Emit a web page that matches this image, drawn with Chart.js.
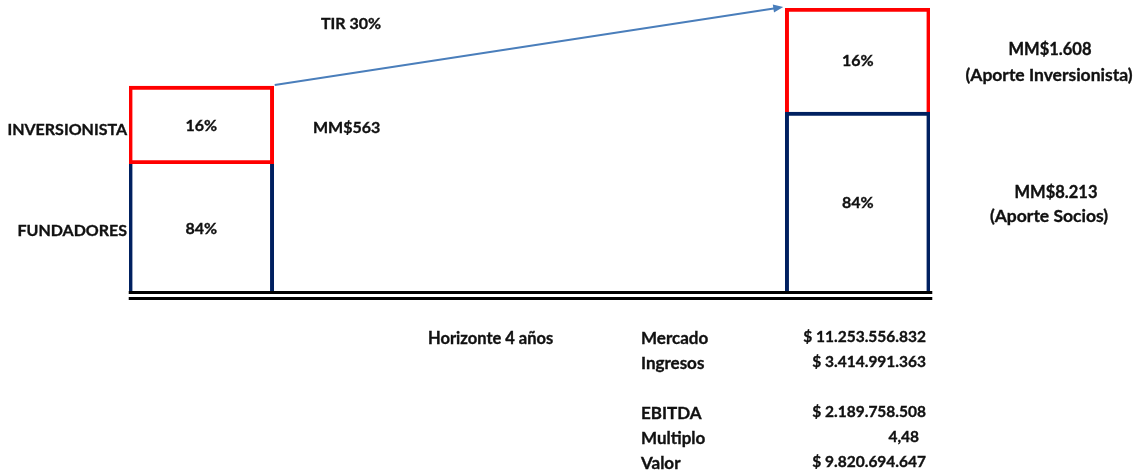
<!DOCTYPE html>
<html>
<head>
<meta charset="utf-8">
<script src="https://cdn.jsdelivr.net/npm/chart.js@4/dist/chart.umd.min.js"></script>
<style>
  html, body { margin: 0; padding: 0; background: #fff; }
  #wrap { position: relative; width: 1141px; height: 474px; font-family: Lato, "Liberation Sans", sans-serif; font-weight: 700; font-size: 16px; color: #111; -webkit-text-stroke: 0.35px #111; }
  #wrap canvas { position: absolute; left: 0; top: 0; }
  .t { position: absolute; white-space: nowrap; line-height: 1; transform: translateY(-50%); }
  .c { transform: translate(-50%, -50%); }
  .r { transform: translate(-100%, -50%); }
  .w { font-size: 17.5px; }
  .m { font-size: 16.5px; }
  .lab { font-size: 17px; }
  .val { font-size: 15.5px; }
</style>
</head>
<body>
<div id="wrap">
  <canvas id="equityChart" width="1141" height="474"></canvas>

  <div class="t r" style="left:127px; top:129px;">INVERSIONISTA</div>
  <div class="t r" style="left:127px; top:230px;">FUNDADORES</div>
  <div class="t" style="left:321px; top:23px;">TIR 30%</div>
  <div class="t" style="left:313px; top:127px;">MM$563</div>

  <div class="t c m" style="left:1050px; top:49px;">MM$1.608</div>
  <div class="t c w" style="left:1049px; top:75px;">(Aporte Inversionista)</div>
  <div class="t c m" style="left:1056px; top:192px;">MM$8.213</div>
  <div class="t c w" style="left:1049px; top:216px;">(Aporte Socios)</div>

  <div class="t m" style="left:428px; top:338px;">Horizonte 4 años</div>
  <div id="summary"></div>
</div>

<script>
// Years on the horizontal axis (entry and exit)
const years = [0, 4];
// Bar segment heights as drawn (arbitrary units)
const foundersHeight = [128, 180];
const investorHeight = [78, 104];
// Share labels inside each segment
const foundersShare = ['84%', '84%'];
const investorShare = ['16%', '16%'];

// Summary table under the chart
const summaryLabels = ['Mercado', 'Ingresos', 'EBITDA', 'Multiplo', 'Valor'];
const summaryValues = ['$ 11.253.556.832', '$ 3.414.991.363', '$ 2.189.758.508', '4,48', '$ 9.820.694.647'];
const summaryRows = [337, 362, 412, 437, 462];

const summary = document.getElementById('summary');
summaryLabels.forEach(function(label, i) {
    const l = document.createElement('div');
    l.className = 't lab';
    l.style.left = '641px';
    l.style.top = summaryRows[i] + 'px';
    l.textContent = label;
    summary.appendChild(l);
    const v = document.createElement('div');
    v.className = 't r val';
    v.style.left = (summaryValues[i] === '4,48' ? 919 : 926) + 'px';
    v.style.top = summaryRows[i] + 'px';
    v.textContent = summaryValues[i];
    summary.appendChild(v);
});

const RED = '#ff0000';
const NAVY = '#002060';
const B = 4;

// Percent labels, TIR arrow and double baseline
const decorations = {
    id: 'decorations',
    afterDatasetsDraw(chart) {
        const ctx = chart.ctx;
        const founders = chart.getDatasetMeta(0).data;
        const investor = chart.getDatasetMeta(1).data;

        ctx.save();
        ctx.font = '700 16px Lato, "Liberation Sans", sans-serif';
        ctx.fillStyle = '#111';
        ctx.strokeStyle = '#111';
        ctx.lineWidth = 0.35;
        ctx.textAlign = 'center';
        ctx.textBaseline = 'middle';
        founders.forEach(function(bar, i) {
            const y = (bar.y + bar.base) / 2 + 1;
            ctx.fillText(foundersShare[i], bar.x, y);
            ctx.strokeText(foundersShare[i], bar.x, y);
        });
        investor.forEach(function(bar, i) {
            const y = (bar.y + bar.base) / 2 + 1;
            ctx.fillText(investorShare[i], bar.x, y);
            ctx.strokeText(investorShare[i], bar.x, y);
        });

        // baseline (double line)
        const left = founders[0].x - founders[0].width / 2;
        const right = founders[1].x + founders[1].width / 2;
        const base = founders[0].base;
        ctx.fillStyle = '#000';
        ctx.fillRect(left, base - 1, right - left + 2, 3);
        ctx.fillRect(left, base + 5, right - left + 2, 3);

        // arrow from entry to exit
        const a = investor[0], b = investor[1];
        const x1 = a.x + a.width / 2 + 1, y1 = a.y - 1;
        const x2 = b.x - b.width / 2 - 2, y2 = b.y - 1;
        const ang = Math.atan2(y2 - y1, x2 - x1);
        ctx.strokeStyle = '#4a7ebb';
        ctx.fillStyle = '#4a7ebb';
        ctx.lineWidth = 2;
        ctx.beginPath();
        ctx.moveTo(x1, y1);
        ctx.lineTo(x2 - 8 * Math.cos(ang), y2 - 8 * Math.sin(ang));
        ctx.stroke();
        ctx.beginPath();
        ctx.moveTo(x2, y2);
        ctx.lineTo(x2 - 10 * Math.cos(ang) + 4 * Math.sin(ang), y2 - 10 * Math.sin(ang) - 4 * Math.cos(ang));
        ctx.lineTo(x2 - 10 * Math.cos(ang) - 4 * Math.sin(ang), y2 - 10 * Math.sin(ang) + 4 * Math.cos(ang));
        ctx.closePath();
        ctx.fill();
        ctx.restore();
    }
};

new Chart(document.getElementById('equityChart'), {
    type: 'bar',
    data: {
        datasets: [{
            label: 'FUNDADORES',
            data: years.map(function(yr, i) { return { x: yr, y: foundersHeight[i] }; }),
            backgroundColor: '#ffffff',
            borderColor: NAVY,
            borderWidth: [
                { left: B, right: B, top: 0, bottom: 0 },
                { left: B, right: B, top: B, bottom: 0 }
            ],
            borderSkipped: false,
            barThickness: 145
        }, {
            label: 'INVERSIONISTA',
            data: years.map(function(yr, i) { return { x: yr, y: investorHeight[i] }; }),
            backgroundColor: '#ffffff',
            borderColor: RED,
            borderWidth: [
                { left: B, right: B, top: B, bottom: B },
                { left: B, right: B, top: B, bottom: 0 }
            ],
            borderSkipped: false,
            barThickness: 145
        }]
    },
    options: {
        responsive: false,
        animation: false,
        layout: { padding: { left: 129, right: 211, top: 8, bottom: 182 } },
        scales: {
            x: { type: 'linear', min: -0.44, max: 4.44, offset: false, stacked: true, display: false },
            y: { min: 0, max: 284, stacked: true, display: false }
        },
        plugins: {
            legend: { display: false },
            tooltip: { enabled: false }
        }
    },
    plugins: [decorations]
});
</script>
</body>
</html>
